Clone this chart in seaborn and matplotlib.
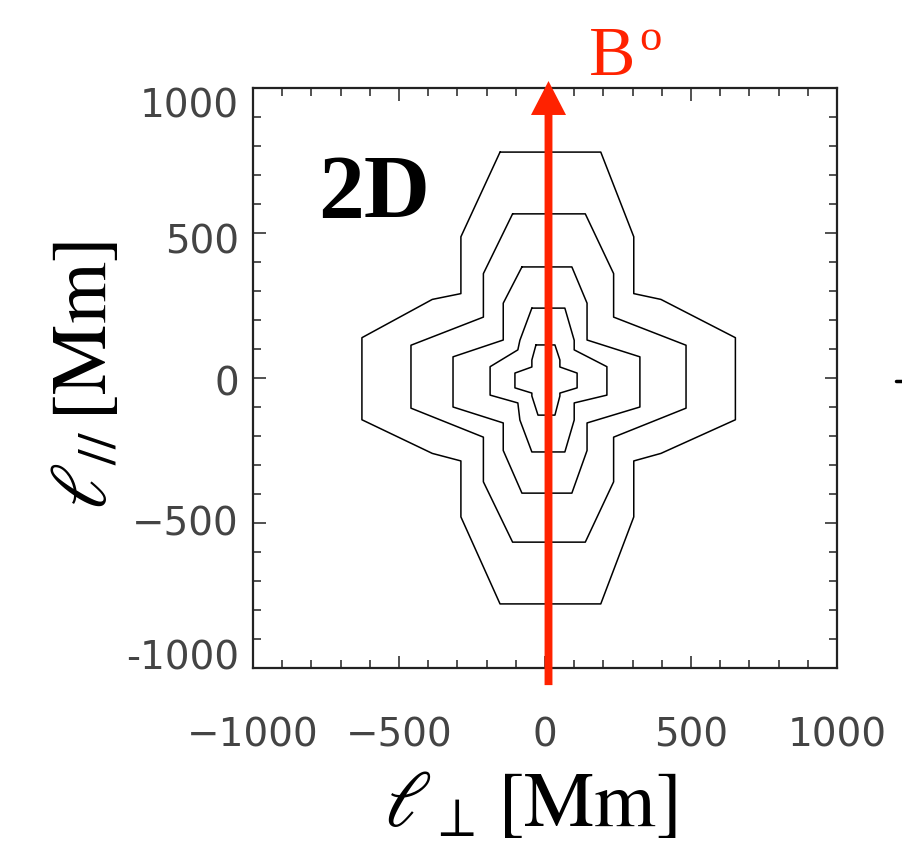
import pandas as pd
import seaborn as sns
import matplotlib.pyplot as plt
from matplotlib.lines import Line2D
from matplotlib.ticker import MultipleLocator
from matplotlib.transforms import ScaledTranslation

# contour vertices in Mm, outermost to innermost
c1_x = [-154, 191, 304, 304, 397, 652, 652, 397, 304, 304, 191, -154, -288, -288, -386, -627, -627, -386, -288, -288, -154]
c1_y = [779, 779, 487, 291, 271, 139, -144, -260, -286, -479, -779, -779, -479, -286, -260, -144, 139, 271, 291, 487, 779]

c2_x = [-111, 138, 235, 235, 483, 483, 235, 235, 138, -111, -211, -211, -459, -459, -211, -211, -111]
c2_y = [566, 566, 360, 210, 113, -104, -204, -358, -566, -566, -358, -204, -104, 113, 210, 360, 566]

c3_x = [-79, 92, 144, 144, 325, 325, 144, 144, 92, -79, -143, -143, -315, -315, -143, -143, -79]
c3_y = [383, 383, 258, 131, 73, -100, -155, -250, -397, -397, -250, -155, -100, 73, 131, 258, 383]

c4_x = [-45, 68, 100, 100, 212, 212, 100, 100, 68, -45, -86, -93, -188, -188, -93, -86, -45]
c4_y = [241, 241, 130, 97, 39, -59, -86, -145, -255, -255, -145, -86, -59, 39, 97, 130, 241]

c5_x = [-31, 34, 51, 51, 110, 110, 51, 51, 34, -24, -45, -45, -103, -103, -45, -45, -31]
c5_y = [114, 114, 62, 38, 17, -34, -52, -62, -128, -128, -62, -52, -34, 17, 38, 62, 114]

x_ticks = [-1000, -500, 0, 500, 1000]
x_labels = ["\u22121000", "\u2212500", "0", "500", "1000"]
y_ticks = [-1000, -500, 0, 500, 1000]
y_labels = ["-1000", "\u2212500", "0", "500", "1000"]
# IDL nudges the y labels toward the middle (pixels, + is up)
y_label_shift = [13, 2, -2, -5, -15]

contours = [(c1_x, c1_y), (c2_x, c2_y), (c3_x, c3_y), (c4_x, c4_y), (c5_x, c5_y)]
frames = []
for i, (cx, cy) in enumerate(contours):
    frames.append(pd.DataFrame({"l_perp": cx, "l_par": cy, "level": i}))
df = pd.concat(frames, ignore_index=True)

sns.set_theme(style="ticks")
plt.rcParams["mathtext.fontset"] = "stix"
plt.rcParams["text.color"] = "black"

fig = plt.figure(figsize=(9.02, 8.42), dpi=100)
ax = fig.add_axes([253 / 902, 1 - 668 / 842, 584 / 902, 580 / 842])

sns.lineplot(data=df, x="l_perp", y="l_par", units="level", estimator=None,
             sort=False, color="black", lw=1.1, legend=False, ax=ax)

# magnetic field direction
red = "#ff2200"
ax.arrow(12, -1059, 0, 2083, width=27, head_width=120, head_length=117,
         length_includes_head=True, color=red, lw=0, clip_on=False, zorder=5)

ax.set_xlim(-1000, 1000)
ax.set_ylim(-1000, 1000)
ax.set_xticks(x_ticks)
ax.set_xticklabels(x_labels)
ax.set_yticks(y_ticks)
ax.set_yticklabels(y_labels)
ax.xaxis.set_minor_locator(MultipleLocator(100))
ax.yaxis.set_minor_locator(MultipleLocator(100))
ax.tick_params(which="both", direction="in", top=True, right=True, color="#222", width=1.1)
ax.tick_params(which="major", length=9)
ax.tick_params(which="minor", length=5.5)
ax.tick_params(axis="x", pad=35)
ax.tick_params(axis="y", pad=10)
for lab in ax.get_xticklabels() + ax.get_yticklabels():
    lab.set_family("DejaVu Sans")
    lab.set_fontsize(28)
    lab.set_color("#444")
for lab, dy in zip(ax.get_yticklabels(), y_label_shift):
    lab.set_transform(lab.get_transform() + ScaledTranslation(0, dy / 100, fig.dpi_scale_trans))
for sp in ax.spines.values():
    sp.set_linewidth(1.6)
    sp.set_color("#222")
ax.set_xlabel("")
ax.set_ylabel("")

fig.text(530 / 902, 1 - 826 / 842, r"$\ell_\perp\,[\mathrm{Mm}]$",
         fontsize=57, ha="center", va="baseline", color="black")
fig.text(106 / 902, 1 - 375 / 842, r"$\ell_{//}\,[\mathrm{Mm}]$", fontsize=57,
         ha="center", va="baseline", rotation=90, rotation_mode="anchor", color="black")

fig.text(318 / 902, 1 - 218 / 842, "2D", family="Liberation Serif", fontweight="bold",
         fontsize=66, ha="left", va="baseline", color="black")
fig.text(589 / 902, 1 - 75 / 842, "B", family="Liberation Serif", fontsize=50,
         color=red, ha="left", va="baseline")
fig.text(639 / 902, 1 - 50 / 842, "o", family="Liberation Serif", fontsize=32,
         color=red, ha="left", va="baseline")

# edge of the neighbouring panel
fig.add_artist(Line2D([896 / 902, 902 / 902], [1 - 381 / 842, 1 - 381 / 842],
                      color="black", lw=2.5))

fig.savefig("out.png", dpi=100)
